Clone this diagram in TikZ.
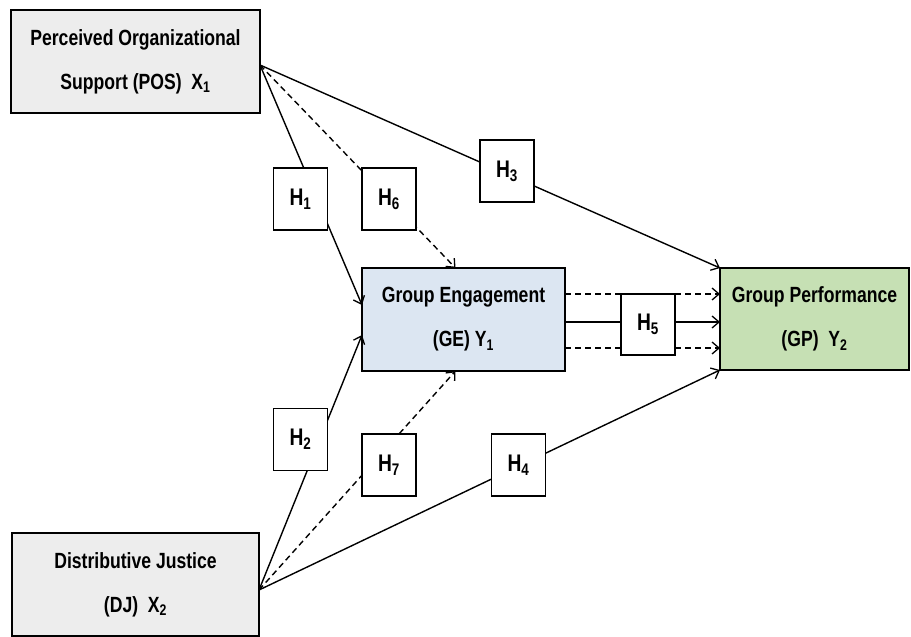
\documentclass[tikz,border=0pt]{standalone}
\usepackage{fontspec}
\setmainfont{Liberation Sans}[FakeStretch=0.8]
\usetikzlibrary{arrows.meta,calc}
\definecolor{boxgrey}{HTML}{EDEDED}
\definecolor{geblue}{HTML}{DCE6F2}
\definecolor{gpgreen}{HTML}{C6E0B4}
\newcommand{\sub}[1]{\textsubscript{#1}}
\begin{document}
\begin{tikzpicture}[x=1pt,y=-1pt,
  bigbox/.style={draw=black, line width=1.5pt, rectangle, inner sep=0pt, outer sep=0pt,
    align=center, font=\fontsize{22}{44}\selectfont\bfseries},
  hbox/.style={draw=black, line width=1.5pt, fill=white, rectangle, inner sep=0pt, outer sep=0pt,
    minimum width=54pt, minimum height=62pt, font=\fontsize{24}{26}\selectfont\bfseries},
  conn/.style={line width=1.4pt, -{Straight Barb[length=7pt,width=12pt,line width=1.3pt]}},
  dconn/.style={conn, dash pattern=on 6pt off 4pt}]
\useasboundingbox (0,0) rectangle (911,637);
% main boxes
\node[bigbox, fill=boxgrey, minimum width=249pt, minimum height=103pt] (pos) at (135.5,61.5)
  {Perceived Organizational\\Support (POS)\ \ X\sub{1}};
\node[bigbox, fill=boxgrey, minimum width=247pt, minimum height=103pt] (dj) at (135.5,584.5)
  {Distributive Justice\\(DJ)\ \ X\sub{2}};
\node[bigbox, fill=geblue, minimum width=203pt, minimum height=103pt] (ge) at (463.5,319.5)
  {Group Engagement\\(GE) Y\sub{1}};
\node[bigbox, fill=gpgreen, minimum width=189pt, minimum height=102pt] (gp) at (814.5,319)
  {Group Performance\\(GP)\ \ Y\sub{2}};
% anchor points
\coordinate (posout) at ([yshift=-3.5pt]pos.east);
\coordinate (djout) at ([yshift=-5.5pt]dj.east);
% connectors from POS
\draw[conn] (posout) -- (gp.north west);
\draw[conn] (posout) -- ([yshift=14.5pt]ge.west);
\draw[dconn] (posout) -- ([xshift=-8pt]ge.north);
% connectors from DJ
\draw[conn] (djout) -- (gp.south west);
\draw[conn] (djout) -- ([yshift=-15.5pt]ge.west);
\draw[dconn] (djout) -- ([xshift=-8pt]ge.south);
% GE to GP
\draw[dconn] ([yshift=25.5pt]ge.east) -- ([yshift=25pt]gp.west);
\draw[conn] ([yshift=-2.5pt]ge.east) -- ([yshift=-3pt]gp.west);
\draw[dconn] ([yshift=-28.5pt]ge.east) -- ([yshift=-29pt]gp.west);
% hypothesis labels
\node[hbox] (h1) at (300.5,199) {H\sub{1}};
\node[hbox] (h6) at (389,199) {H\sub{6}};
\node[hbox] (h3) at (507,171) {H\sub{3}};
\node[hbox] (h2) at (300.5,439.5) {H\sub{2}};
\node[hbox] (h7) at (389,465) {H\sub{7}};
\node[hbox] (h4) at (518.5,465) {H\sub{4}};
\node[hbox, minimum height=61pt] (h5) at (648,324.5) {H\sub{5}};
\end{tikzpicture}
\end{document}
